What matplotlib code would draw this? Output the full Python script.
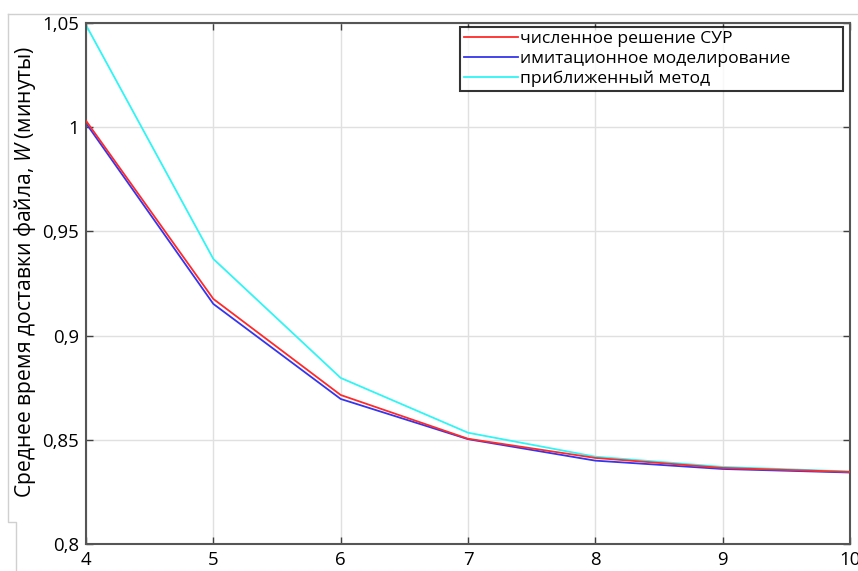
import numpy as np
import matplotlib
matplotlib.use("Agg")
import matplotlib.pyplot as plt
from matplotlib.ticker import FuncFormatter
from matplotlib.lines import Line2D

plt.rcParams['font.family'] = ['Open Sans', 'DejaVu Sans']
plt.rcParams['mathtext.fontset'] = 'custom'
plt.rcParams['mathtext.it'] = 'Open Sans:italic'
plt.rcParams['mathtext.rm'] = 'Open Sans'

# data
n_values = [4, 5, 6, 7, 8, 9, 10]
w_numeric = [1.0031, 0.9176, 0.8715, 0.8505, 0.8413, 0.8365, 0.8346]
w_simulation = [1.0019, 0.9152, 0.8696, 0.8503, 0.8400, 0.8360, 0.8343]
w_approx = [1.0490, 0.9368, 0.8797, 0.8534, 0.8419, 0.8370, 0.8348]

series_labels = ['численное решение СУР', 'имитационное моделирование', 'приближенный метод']
x_ticks = [4, 5, 6, 7, 8, 9, 10]
y_ticks = [0.8, 0.85, 0.9, 0.95, 1.0, 1.05]

fig = plt.figure(figsize=(8.58, 5.71), dpi=100)
ax = fig.add_axes([86 / 858, 27 / 571, 764 / 858, 521 / 571])

ax.plot(n_values, w_numeric, color='#ff2a2a', lw=1.3, label=series_labels[0], zorder=3)
ax.plot(n_values, w_simulation, color='#3535ee', lw=1.3, label=series_labels[1], zorder=2)
ax.plot(n_values, w_approx, color='#30f5f5', lw=1.3, label=series_labels[2], zorder=2)

ax.set_xlim(4, 10)
ax.set_ylim(0.8, 1.05)
ax.set_xticks(x_ticks)
ax.set_yticks(y_ticks)
comma = FuncFormatter(lambda v, p: ('%g' % v).replace('.', ','))
ax.xaxis.set_major_formatter(comma)
ax.yaxis.set_major_formatter(comma)

ax.grid(True, color='#e0e0e0', lw=1.0)
ax.set_axisbelow(True)
ax.tick_params(direction='in', length=5, width=1, colors='#404040', labelcolor='black',
               labelsize=13.4, top=True, right=True, pad=5)
ax.tick_params(axis='x', pad=5)
for s in ax.spines.values():
    s.set_color('#555555')
    s.set_linewidth(1.5)

ax.set_ylabel('Среднее время доставки файла, $W$ (минуты)', fontsize=15.2, labelpad=5)
ax.yaxis.set_label_coords(-0.063, 0.522)

# legend box stretched to the width it has in the reference
leg = ax.legend(loc='upper left', bbox_to_anchor=(374 / 764, 0, 383 / 764, 0.992),
                mode='expand', fontsize=12.6, frameon=True, fancybox=False,
                handlelength=3.1, handletextpad=0.1, labelspacing=0.22,
                borderpad=0.2, borderaxespad=0)
leg.get_frame().set_edgecolor('black')
leg.get_frame().set_linewidth(1.5)

# light frame left over from the screenshot
fig.add_artist(Line2D([8 / 858, 858 / 858], [1 - 14 / 571, 1 - 14 / 571], color='#d0d0d0', lw=1))
fig.add_artist(Line2D([8 / 858, 8 / 858, 16 / 858, 16 / 858],
                      [1 - 14 / 571, 1 - 522 / 571, 1 - 522 / 571, 0], color='#d0d0d0', lw=1))

fig.savefig('out.png', dpi=100)
